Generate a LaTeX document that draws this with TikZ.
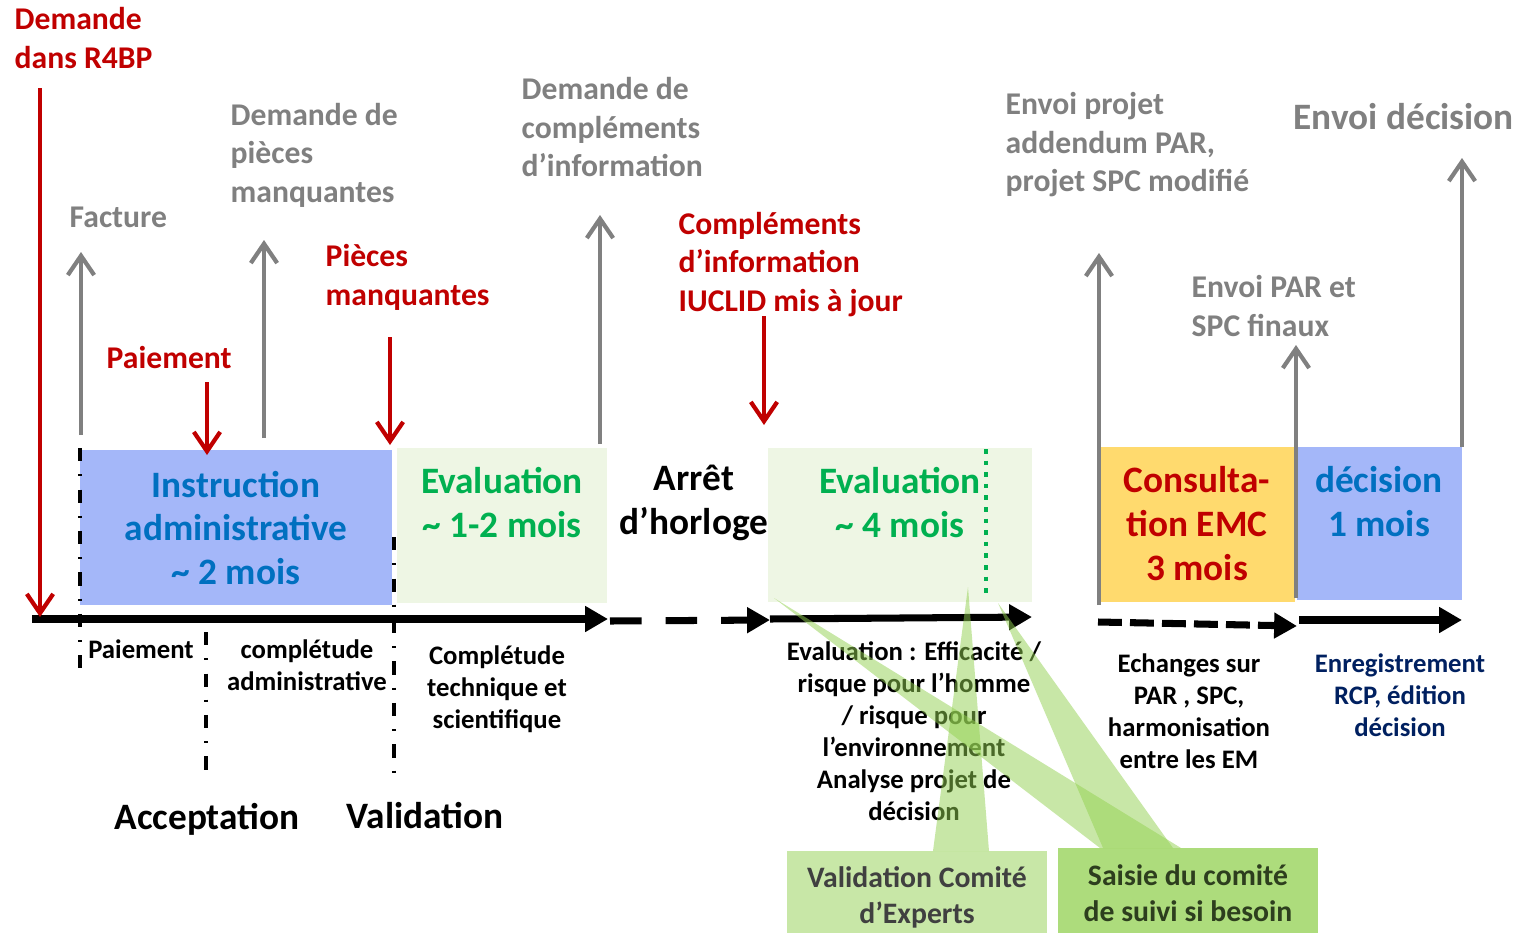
\documentclass[tikz,border=0pt]{standalone}
\usepackage{fontspec}
\setmainfont{Carlito}
\usetikzlibrary{arrows.meta}

\definecolor{rouge}{HTML}{C00000}
\definecolor{gris}{HTML}{808080}
\definecolor{bleubox}{HTML}{A4B7F9}
\definecolor{bleutxt}{HTML}{0070C0}
\definecolor{vertbox}{HTML}{EEF6E4}
\definecolor{verttxt}{HTML}{00B050}
\definecolor{jaune}{HTML}{FFDA6E}
\definecolor{marine}{HTML}{002060}
\definecolor{bulle}{HTML}{92D050}

\newcommand{\fbig}{\fontsize{10.6}{12.5}\selectfont}
\newcommand{\fmed}{\fontsize{9}{10.95}\selectfont}
\newcommand{\fsmall}{\fontsize{7.6}{9.1}\selectfont}
\newcommand{\fcall}{\fontsize{8.45}{10.24}\selectfont}

\tikzset{
  phase/.style={inner sep=0pt, draw=none},
  txtbig/.style={inner sep=0pt, align=center, font=\bfseries\fbig},
  txtmed/.style={inner sep=0pt, align=left, anchor=west, font=\bfseries\fmed},
  txtsmall/.style={inner sep=0pt, align=center, font=\bfseries\fsmall},
  redarr/.style={rouge, line width=1.2pt, -{Straight Barb[length=5.5pt,width=7.5pt]}},
  greyarr/.style={gris, line width=1.2pt, -{Straight Barb[length=5.5pt,width=7.5pt]}},
  axe/.style={line width=2pt, -{Triangle[length=6.5pt,width=7pt]}},
  axedash/.style={axe, dash pattern=on 9pt off 6.8pt},
  axedashb/.style={axe, dash pattern=on 6.8pt off 2.3pt},
  sep/.style={line width=1pt, dash pattern=on 3.7pt off 3.7pt on 0.7pt off 3.7pt},
  bullebox/.style={inner sep=0pt, fill=bulle, fill opacity=0.5, text opacity=1,
    align=center, font=\bfseries\fcall},
}

\begin{document}
\begin{tikzpicture}[x=0.01cm, y=-0.01cm]
\useasboundingbox (0,0) rectangle (1514,933);

% phases
\node[phase, fill=bleubox, minimum width=3.12cm, minimum height=1.55cm] (instr) at (236,527.5) {};
\node[phase, fill=vertbox, minimum width=2.10cm, minimum height=1.55cm] (evalA) at (502,525.5) {};
\node[phase, fill=vertbox, minimum width=2.64cm, minimum height=1.54cm] (evalB) at (900,525) {};
\node[phase, fill=jaune, minimum width=1.95cm, minimum height=1.55cm] (consult) at (1197.5,524.5) {};
\node[phase, fill=bleubox, minimum width=1.65cm, minimum height=1.53cm] (decis) at (1379.5,523.5) {};

\draw[verttxt, line width=1.4pt, dash pattern=on 1.3pt off 2pt] (986,449) -- (986,595);

% time axis
\coordinate (t0) at (32,619);
\coordinate (t1) at (608,619);
\coordinate (t2) at (610,621);
\coordinate (t3) at (770,620);
\coordinate (t4) at (770,619);
\coordinate (t5) at (1032,617);
\coordinate (t6) at (1098,622);
\coordinate (t7) at (1297,626);
\coordinate (t8) at (1299,620);
\coordinate (t9) at (1462,620);
\draw[axe] (t0) -- (t1);
\draw[axedash] (t2) -- (t3);
\draw[axe] (t4) -- (t5);
\draw[axedashb] (t6) -- (t7);
\draw[axe] (t8) -- (t9);

% separators
\coordinate (s1a) at (80,448);
\coordinate (s1b) at (80,676);
\coordinate (s2a) at (206,632);
\coordinate (s2b) at (206,778);
\coordinate (s3a) at (394,537);
\coordinate (s3b) at (394,785);
\draw[sep] (s1a) -- (s1b);
\draw[sep] (s2a) -- (s2b);
\draw[sep] (s3a) -- (s3b);

% incoming (red)
\coordinate (r1a) at (40,88);
\coordinate (r1b) at (40,617);
\coordinate (r2a) at (207,382);
\coordinate (r2b) at (207,455);
\coordinate (r3a) at (390,337);
\coordinate (r3b) at (390,445);
\coordinate (r4a) at (764,316);
\coordinate (r4b) at (764,425);
\draw[redarr] (r1a) -- (r1b);
\draw[redarr] (r2a) -- (r2b);
\draw[redarr] (r3a) -- (r3b);
\draw[redarr] (r4a) -- (r4b);

% outgoing (grey)
\coordinate (g1a) at (81,435);
\coordinate (g1b) at (81,252);
\coordinate (g2a) at (264,438);
\coordinate (g2b) at (264,240);
\coordinate (g3a) at (600,444);
\coordinate (g3b) at (600,215);
\coordinate (g4a) at (1099,605);
\coordinate (g4b) at (1099,253);
\coordinate (g5a) at (1296,598);
\coordinate (g5b) at (1296,345);
\coordinate (g6a) at (1462,447);
\coordinate (g6b) at (1462,158);
\draw[greyarr] (g1a) -- (g1b);
\draw[greyarr] (g2a) -- (g2b);
\draw[greyarr] (g3a) -- (g3b);
\draw[greyarr] (g4a) -- (g4b);
\draw[greyarr] (g5a) -- (g5b);
\draw[greyarr] (g6a) -- (g6b);

% texts in phases
\node[txtbig, text=bleutxt] (instrT) at (236,528) {Instruction\\administrative\\\textasciitilde{} 2 mois};
\node[txtbig, text=verttxt] (evalAT) at (502,503) {Evaluation\\\textasciitilde{} 1-2 mois};
\node[txtbig] (arret) at (694,503) {Arrêt\\d’horloge};
\node[txtbig, text=verttxt] (evalBT) at (900,503) {Evaluation\\\textasciitilde{} 4 mois};
\node[txtbig, text=rouge] (consultT) at (1197,524) {Consulta-\\tion EMC\\3 mois};
\node[txtbig, text=bleutxt] (decisT) at (1379,502) {décision\\1 mois};

% labels above
\node[txtmed, text=rouge] (demande) at (14,38) {Demande\\dans R4BP};
\node[txtmed, text=gris] (facture) at (69,217) {Facture};
\node[txtmed, text=gris] (dempieces) at (230,155) {Demande de\\pièces\\manquantes};
\node[txtmed, text=rouge] (paiementR) at (106,358) {Paiement};
\node[txtmed, text=rouge] (pieces) at (325,277.5) {Pièces\\manquantes};
\node[txtmed, text=gris] (demcompl) at (521,127.5) {Demande de\\compléments\\d’information};
\node[txtmed, text=rouge] (compl) at (678,264.5) {Compléments\\d’information\\IUCLID mis à jour};
\node[txtmed, text=gris] (envproj) at (1005,145) {Envoi projet\\addendum PAR,\\projet SPC modifié};
\node[txtmed, text=gris] (envpar) at (1191,306) {Envoi PAR et\\SPC finaux};
\node[txtmed, text=gris, font=\bfseries\fbig] (envdec) at (1293,117) {Envoi décision};

% labels below
\node[txtsmall] (paiementB) at (141,649) {Paiement};
\node[txtsmall] (complAdm) at (307,665) {complétude\\administrative};
\node[txtsmall] (complTech) at (497,689) {Complétude\\technique et\\scientifique};
\node[txtsmall] (evalDet) at (914,731) {Evaluation : Efficacité /\\risque pour l’homme\\/ risque pour\\l’environnement\\Analyse projet de\\décision};
\node[txtsmall] (echanges) at (1189,711) {Echanges sur\\PAR , SPC,\\harmonisation\\entre les EM};
\node[txtsmall, text=marine] (enreg) at (1400,695) {Enregistrement\\RCP, édition\\décision};
\node[txtbig] (accept) at (207,819) {Acceptation};
\node[txtbig] (valid) at (425,816) {Validation};

% callouts
\coordinate (valtip) at (968,587);
\coordinate (saistipA) at (774,598);
\coordinate (saistipB) at (998,603);
\fill[bulle, fill opacity=0.5] (933,851) -- (valtip) -- (989,851) -- cycle;
\fill[bulle, fill opacity=0.5] (1100,848) -- (saistipA) -- (1181,848) -- cycle;
\fill[bulle, fill opacity=0.5] (1103,848) -- (saistipB) -- (1173,848) -- cycle;
\node[bullebox, text=black!75, minimum width=2.60cm, minimum height=0.92cm] (valcom) at (917,897) {Validation Comité\\d’Experts};
\node[bullebox, fill opacity=0.75, text={rgb,255:red,45;green,62;blue,30}, minimum width=2.60cm, minimum height=0.90cm] (saisie) at (1188,893) {Saisie du comité\\de suivi si besoin};

\end{tikzpicture}
\end{document}
